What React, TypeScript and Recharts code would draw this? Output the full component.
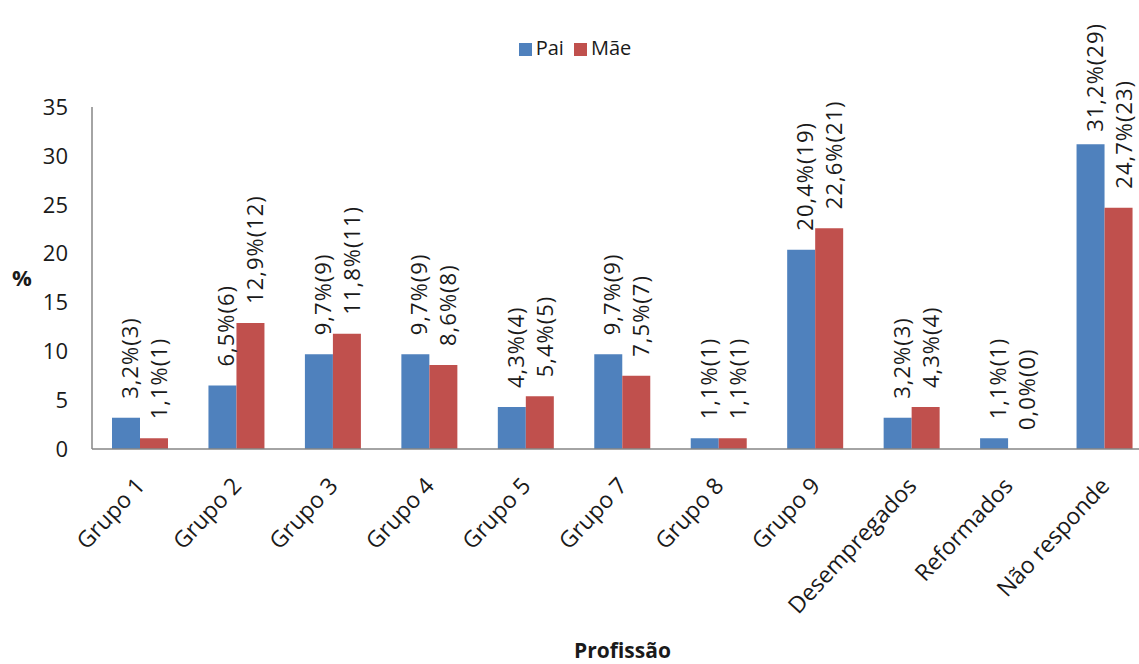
import React from 'react';
import { BarChart, Bar, XAxis, YAxis, Legend, LabelList } from 'recharts';

// Professions of father (Pai) and mother (Mãe), percentages and absolute counts
const categories = [
  'Grupo 1', 'Grupo 2', 'Grupo 3', 'Grupo 4', 'Grupo 5', 'Grupo 7',
  'Grupo 8', 'Grupo 9', 'Desempregados', 'Reformados', 'Não responde',
];
const paiPct = [3.2, 6.5, 9.7, 9.7, 4.3, 9.7, 1.1, 20.4, 3.2, 1.1, 31.2];
const maePct = [1.1, 12.9, 11.8, 8.6, 5.4, 7.5, 1.1, 22.6, 4.3, 0.0, 24.7];
const paiCount = [3, 6, 9, 9, 4, 9, 1, 19, 3, 1, 29];
const maeCount = [1, 12, 11, 8, 5, 7, 1, 21, 4, 0, 23];
const yTicks = [0, 5, 10, 15, 20, 25, 30, 35];

const data = categories.map((name, i) => ({
  name,
  pai: paiPct[i],
  mae: maePct[i],
}));

const FONT = '"Open Sans", sans-serif';
const TEXT = '#1a1a1a';
const BLUE = '#4F81BD';
const RED = '#C0504D';
const LABEL_GAP = 19;
const LABEL_TOP_LIMIT = 22;
const CHAR_W = 12.2;

const fmt = (v: number) => v.toFixed(1).replace('.', ',');

// Vertical value label; kept inside the chart area when the bar is very tall
const VLabel = ({ cx, top, text }: { cx: number; top: number; text: string }) => {
  const len = text.length * CHAR_W;
  const ty = Math.max(top - LABEL_GAP, LABEL_TOP_LIMIT + len);
  return (
    <text
      transform={`translate(${cx},${ty}) rotate(-90)`}
      textAnchor="start"
      dominantBaseline="central"
      fontFamily={FONT}
      fontSize={22}
      letterSpacing={1}
      fill={TEXT}
    >
      {text}
    </text>
  );
};

// Resolve the data row of a label: zero-height bars draw no rectangle,
// so the label list index can skip them; match on the value instead.
const rowIndex = (values: number[], props: any) => {
  const idx = Number(props.index);
  const v = Number(props.value);
  if (values[idx] === v) return idx;
  for (let k = idx; k < values.length; k++) if (values[k] === v) return k;
  for (let k = 0; k < values.length; k++) if (values[k] === v) return k;
  return idx;
};

const paiLabel = (props: any) => {
  const { x, y, width, height } = props;
  const i = rowIndex(paiPct, props);
  const px = Number(x);
  const w = Number(width);
  const base = Number(y) + Number(height);
  return (
    <g>
      <VLabel cx={px + w / 2 + 3} top={Number(y)} text={`${fmt(paiPct[i])}%(${paiCount[i]})`} />
      {maePct[i] === 0 && (
        // the zero-height Mãe bar has no rectangle, so its label sits on the baseline
        <VLabel cx={px + w + w / 2 + 4} top={base} text={`${fmt(maePct[i])}%(${maeCount[i]})`} />
      )}
    </g>
  );
};

const maeLabel = (props: any) => {
  const { x, y, width } = props;
  const i = rowIndex(maePct, props);
  if (maePct[i] === 0) return null;
  return (
    <VLabel
      cx={Number(x) + Number(width) / 2 + 4}
      top={Number(y)}
      text={`${fmt(maePct[i])}%(${maeCount[i]})`}
    />
  );
};

const XTick = (props: any) => {
  const { x, y, payload } = props;
  return (
    <g transform={`translate(${x + 6},${y + 38})`}>
      <text
        transform="rotate(-47)"
        textAnchor="end"
        fontFamily={FONT}
        fontSize={23}
        fill={TEXT}
      >
        {payload.value}
      </text>
    </g>
  );
};

const legendOrder: Record<string, number> = { pai: 0, mae: 1 };

export default function App() {
  return (
    <div
      style={{
        position: 'absolute',
        left: 0,
        top: 0,
        width: 1139,
        height: 664,
        overflow: 'hidden',
        background: '#fff',
      }}
    >
      <BarChart
        width={1160}
        height={664}
        data={data}
        margin={{ top: 107, right: 7, left: 0, bottom: 0 }}
        barGap={0}
        barSize={28}
      >
        <XAxis
          dataKey="name"
          interval={0}
          tickLine={false}
          tickSize={0}
          tickMargin={0}
          axisLine={{ stroke: '#868686', strokeWidth: 1.5 }}
          tick={<XTick />}
          height={215}
          label={{
            value: 'Profissão',
            position: 'insideBottom',
            offset: 6,
            fontFamily: FONT,
            fontSize: 21,
            fontWeight: 700,
            fill: TEXT,
          }}
        />
        <YAxis
          width={92}
          domain={[0, 35]}
          ticks={yTicks}
          interval={0}
          tickLine={false}
          tickMargin={18}
          axisLine={{ stroke: '#868686', strokeWidth: 1.5 }}
          tick={{ fontFamily: FONT, fontSize: 22, fill: TEXT }}
          label={{
            value: '%',
            position: 'insideLeft',
            offset: 12,
            fontFamily: FONT,
            fontSize: 22,
            fontWeight: 700,
            fill: TEXT,
          }}
        />
        <Legend
          verticalAlign="middle"
          align="center"
          layout="horizontal"
          iconType="square"
          iconSize={13}
          itemSorter={(item: any) => legendOrder[String(item.dataKey)] ?? 0}
          wrapperStyle={{ top: 34, left: 0, width: 1160, fontFamily: FONT, fontSize: 20 }}
          formatter={(value: string) => <span style={{ color: TEXT }}>{value}</span>}
        />
        <Bar dataKey="pai" name="Pai" fill={BLUE} isAnimationActive={false}>
          <LabelList dataKey="pai" content={paiLabel} />
        </Bar>
        <Bar dataKey="mae" name="Mãe" fill={RED} isAnimationActive={false}>
          <LabelList dataKey="mae" content={maeLabel} />
        </Bar>
      </BarChart>
    </div>
  );
}
